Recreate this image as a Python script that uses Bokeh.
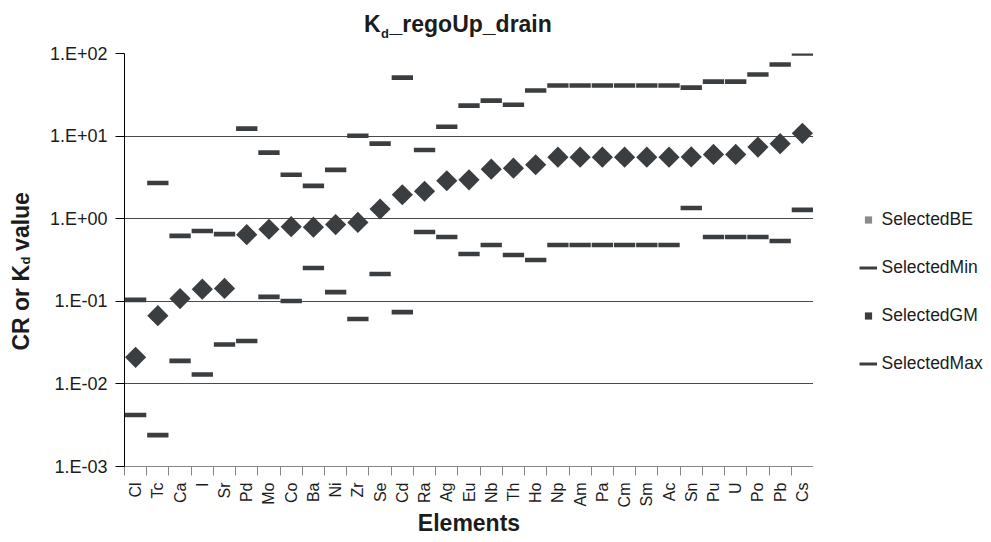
import math
from bokeh.plotting import figure
from bokeh.models import (ColumnDataSource, Range1d, FixedTicker, CustomJSTickFormatter,
                          Legend, LegendItem, Label)
from bokeh.layouts import column, row
from bokeh.embed import file_html
from bokeh.resources import INLINE

# ---------------- data ----------------
elements = ["Cl", "Tc", "Ca", "I", "Sr", "Pd", "Mo", "Co", "Ba", "Ni", "Zr", "Se", "Cd",
            "Ra", "Ag", "Eu", "Nb", "Th", "Ho", "Np", "Am", "Pa", "Cm", "Sm", "Ac", "Sn",
            "Pu", "U", "Po", "Pb", "Cs"]
selected_min = [0.0042, 0.0024, 0.019, 0.013, 0.030, 0.033, 0.113, 0.101, 0.253, 0.129,
                0.061, 0.214, 0.074, 0.69, 0.60, 0.374, 0.481, 0.364, 0.316, 0.481, 0.481,
                0.481, 0.481, 0.481, 0.481, 1.35, 0.60, 0.60, 0.60, 0.538, 1.28]
selected_gm = [0.021, 0.067, 0.108, 0.140, 0.143, 0.64, 0.745, 0.80, 0.79, 0.85,
               0.90, 1.31, 1.95, 2.15, 2.88, 2.96, 3.98, 4.09, 4.5, 5.56, 5.56,
               5.56, 5.56, 5.56, 5.56, 5.6, 6.0, 6.0, 7.36, 8.1, 10.8]
selected_max = [0.104, 2.7, 0.62, 0.71, 0.65, 12.3, 6.3, 3.4, 2.5, 3.9,
                10.1, 8.1, 51.0, 6.8, 13.0, 23.4, 26.9, 24.0, 35.6, 41.0, 41.0,
                41.0, 41.0, 41.0, 41.0, 38.6, 45.7, 45.7, 55.6, 73.5, 100.0]
selected_be = []  # not visible in the chart (legend entry only)
y_ticks = [1e-3, 1e-2, 1e-1, 1e0, 1e1, 1e2]
series_labels = ["SelectedBE", "SelectedMin", "SelectedGM", "SelectedMax"]
title_main, title_sub, title_rest = "K", "d", "_regoUp_drain"
ylabel_a, ylabel_sub, ylabel_b = "CR or K", "d", "value"
xlabel = "Elements"

MARK = "#3b3e41"
BE_COL = "#8a8a8a"
TXT = "#1c1c1c"
FONT = "Liberation Sans"

# shared vertical borders so that all strips have the same frame
B_TOP, B_BOTTOM = 13, 74
ROW_H = 500

n = len(elements)
idx = list(range(n))
src = ColumnDataSource(dict(x=idx, name=elements, mn=selected_min, gm=selected_gm, mx=selected_max))


def aux(w, h, top=0, bottom=0):
    f = figure(width=w, height=h, x_range=Range1d(0, 1), y_range=Range1d(0, 1),
               toolbar_location=None, output_backend="svg",
               min_border_left=0, min_border_right=0, min_border_top=top, min_border_bottom=bottom,
               x_axis_location=None, y_axis_location=None)
    f.outline_line_color = None
    f.grid.visible = False
    return f


def lab(fig, text, x, y, size, align="left", angle=0.0):
    fig.add_layout(Label(text=text, x=x, y=y, x_units="screen", y_units="screen",
                         text_font=FONT, text_font_style="bold", text_font_size=size,
                         text_color=TXT, text_align=align, text_baseline="middle",
                         angle=angle))


# ---------------- main chart ----------------
p = figure(width=773, height=ROW_H, x_range=Range1d(-0.5, n - 0.5), y_range=Range1d(1e-3, 1e2),
           y_axis_type="log", output_backend="svg", toolbar_location=None,
           min_border_left=84, min_border_right=0, min_border_top=B_TOP, min_border_bottom=B_BOTTOM)
p.outline_line_color = None

r_min = p.rect(x="x", y="mn", width=0.96, height=4.6, height_units="screen", source=src,
               fill_color=MARK, line_color=None)
r_max = p.rect(x="x", y="mx", width=0.96, height=4.6, height_units="screen", source=src,
               fill_color=MARK, line_color=None)
r_gm = p.scatter(x="x", y="gm", source=src, marker="square", size=15, angle=math.pi / 4,
                 fill_color=MARK, line_color=None)
r_be = p.scatter(x=idx[:len(selected_be)], y=selected_be, marker="square", size=15,
                 angle=math.pi / 4, fill_color=BE_COL, line_color=None)

yax = p.yaxis[0]
yax.ticker = FixedTicker(ticks=y_ticks)
yax.formatter = CustomJSTickFormatter(code="""
const e = Math.round(Math.log10(tick));
const s = e < 0 ? '-' : '+';
return '1.E' + s + String(Math.abs(e)).padStart(2, '0');
""")
yax.axis_line_color = "black"
yax.major_tick_line_color = "black"
yax.major_tick_out = 9
yax.major_tick_in = 0
yax.minor_tick_line_color = None
yax.major_label_standoff = 8
yax.major_label_text_font = FONT
yax.major_label_text_font_size = "18px"
yax.major_label_text_color = TXT

p.ygrid.ticker = FixedTicker(ticks=y_ticks)
p.ygrid.grid_line_color = "#4a4a4a"
p.ygrid.grid_line_width = 1
p.xgrid.grid_line_color = None

xax = p.xaxis[0]
xax.ticker = FixedTicker(ticks=idx, minor_ticks=[i - 0.5 for i in range(n + 1)])
xax.major_label_overrides = {i: e for i, e in enumerate(elements)}
xax.major_label_orientation = math.pi / 2
xax.major_tick_line_color = None
xax.major_tick_out = 9
xax.major_tick_in = 0
xax.minor_tick_line_color = "#868686"
xax.minor_tick_out = 9
xax.minor_tick_in = 0
xax.axis_line_color = "#868686"
xax.major_label_standoff = 7
xax.major_label_text_font = FONT
xax.major_label_text_font_size = "16px"
xax.major_label_text_color = TXT
xax.axis_label = xlabel
xax.axis_label_text_font = FONT
xax.axis_label_text_font_style = "bold"
xax.axis_label_text_font_size = "23px"
xax.axis_label_text_color = TXT
xax.axis_label_standoff = 0

# ---------------- title strip (frame = whole strip) ----------------
tf = aux(989, 40)
lab(tf, title_main, 380, 17, "23px", align="right")
lab(tf, title_sub, 380.5, 7.5, "13px")
lab(tf, title_rest, 389, 17, "23px")

# ---------------- y-axis title strip ----------------
yf = aux(40, ROW_H, B_TOP, B_BOTTOM)
lab(yf, ylabel_a, 20.3, 201.5, "23px", align="right", angle=math.pi / 2)
lab(yf, ylabel_sub, 25.3, 202.0, "13px", angle=math.pi / 2)
lab(yf, ylabel_b, 20.3, 215.6, "23px", angle=math.pi / 2)

# ---------------- legend strip ----------------
lf = aux(176, ROW_H, B_TOP, B_BOTTOM)
sw_be = lf.scatter(x="x", y="gm", source=src, marker="square", fill_color=BE_COL,
                   line_color=None, visible=False)
sw_min = lf.line(x="x", y="mn", source=src, line_color=MARK, line_width=3, visible=False)
sw_gm = lf.scatter(x="x", y="gm", source=src, marker="square", fill_color=MARK,
                   line_color=None, visible=False)
sw_max = lf.line(x="x", y="mx", source=src, line_color=MARK, line_width=3, visible=False)
legend = Legend(items=[LegendItem(label=series_labels[0], renderers=[sw_be]),
                       LegendItem(label=series_labels[1], renderers=[sw_min]),
                       LegendItem(label=series_labels[2], renderers=[sw_gm]),
                       LegendItem(label=series_labels[3], renderers=[sw_max])],
                location=(45.5, 90.5), orientation="vertical",
                border_line_color=None, background_fill_alpha=0,
                inactive_fill_alpha=0,
                label_text_font=FONT, label_text_font_size="17.5px", label_text_color=TXT,
                glyph_width=18, glyph_height=25, label_height=25, spacing=23,
                padding=10, margin=0, label_standoff=5)
lf.add_layout(legend)

layout = column(tf, row(yf, p, lf))
open("out.html", "w").write(file_html(layout, INLINE))
